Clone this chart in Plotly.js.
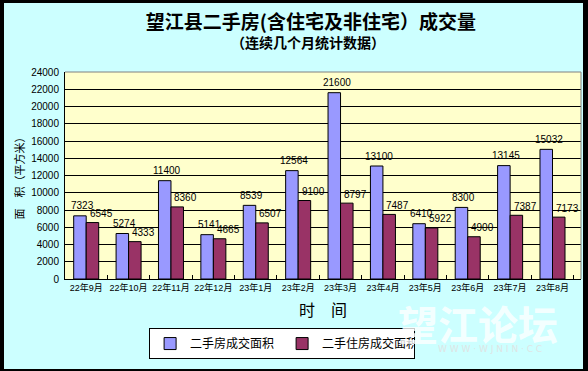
<!DOCTYPE html>
<html>
<head>
<meta charset="utf-8">
<script src="https://cdn.plot.ly/plotly-3.0.1.min.js"></script>
<style>
html,body{margin:0;padding:0;background:#000;width:588px;height:371px;overflow:hidden;}
#chart{position:absolute;left:4px;top:3px;width:579px;height:366px;}
</style>
</head>
<body>
<div id="chart"></div>
<script>
const categories = ['22年9月','22年10月','22年11月','22年12月','23年1月','23年2月','23年3月','23年4月','23年5月','23年6月','23年7月','23年8月'];
const totalArea = [7323, 5274, 11400, 5141, 8539, 12564, 21600, 13100, 6410, 8300, 13145, 15032];
const residentialArea = [6545, 4333, 8360, 4665, 6507, 9100, 8797, 7487, 5922, 4900, 7387, 7173];
const seriesNames = ['二手房成交面积', '二手住房成交面积'];
const yTicks = [0,2000,4000,6000,8000,10000,12000,14000,16000,18000,20000,22000,24000];

const cjk = '"Liberation Sans", "Noto Sans CJK SC", sans-serif';
const cjkTitle = '"Noto Sans CJK SC", sans-serif';

const traces = [
  {type:'bar', name:seriesNames[0], x:categories, y:totalArea,
   marker:{color:'#9999FF', line:{color:'#000', width:1}}, hoverinfo:'none'},
  {type:'bar', name:seriesNames[1], x:categories, y:residentialArea,
   marker:{color:'#993366', line:{color:'#000', width:1}}, hoverinfo:'none'}
];

const labelAnn = [];
categories.forEach((c,i)=>{
  labelAnn.push({x:c, y:totalArea[i], xref:'x', yref:'y', text:String(totalArea[i]), showarrow:false,
    xanchor:'center', xshift:-4, yshift:10, yanchor:'middle', font:{family:cjk, size:10, color:'#000'}});
  labelAnn.push({x:c, y:residentialArea[i], xref:'x', yref:'y', text:String(residentialArea[i]), showarrow:false,
    xanchor:'center', xshift:15, yshift:9, yanchor:'middle', font:{family:cjk, size:10, color:'#000'}});
});

const otherAnn = [
  {xref:'paper', yref:'paper', x:0.47, xanchor:'center', y:1.145, text:'（连续几个月统计数据）', showarrow:false,
   yanchor:'middle', font:{family:cjkTitle, size:14, color:'#000', weight:'bold'}},
  {xref:'paper', yref:'paper', x:0.80, xanchor:'center', y:-0.212, text:'<b>望江论坛</b>', showarrow:false,
   yanchor:'middle', font:{family:cjkTitle, size:40, color:'rgba(255,255,255,0.8)'}},
  {xref:'paper', yref:'paper', x:0.824, xanchor:'center', y:-0.338, text:'W W W · W J N I N · C C', showarrow:false,
   yanchor:'middle', font:{family:'"DejaVu Sans", sans-serif', size:9, color:'rgba(225,225,225,0.9)'}}
];

const layout = {
  width:579, height:366,
  margin:{l:61, r:2, t:69, b:90},
  paper_bgcolor:'#CCFFFF',
  plot_bgcolor:'#FFFFCC',
  barmode:'group', bargap:0.41, bargroupgap:0,
  title:{text:'望江县二手房(含住宅及非住宅）成交量', font:{family:cjkTitle, size:19, color:'#000', weight:'bold'},
         x:0.53, xanchor:'center', xref:'container', y:1-19/366, yref:'container', yanchor:'middle'},
  xaxis:{type:'category', showline:true, linecolor:'#000', linewidth:1, ticks:'inside', tickson:'boundaries',
         ticklen:4, tickcolor:'#000', showgrid:false, tickangle:0, automargin:false,
         tickfont:{family:cjk, size:9, color:'#000'},
         title:{text:'时　间', font:{family:cjkTitle, size:16, color:'#000'}, standoff:13}},
  yaxis:{range:[0,24000], tickvals:yTicks, ticktext:yTicks.map(String), showline:true, linecolor:'#000', linewidth:1,
         showgrid:true, gridcolor:'#000', gridwidth:1, zeroline:false, ticks:'', ticklabelstandoff:3, automargin:false,
         tickfont:{family:cjk, size:10, color:'#000'},
         title:{text:'面　积（平方米）', font:{family:cjkTitle, size:11, color:'#000'}, standoff:4}},
  legend:{orientation:'h', x:0.163, xanchor:'left', y:-0.237, yanchor:'top', bgcolor:'#FFFFFF',
          bordercolor:'#000', borderwidth:1, font:{family:cjkTitle, size:12, color:'#000'}, entrywidth:87, traceorder:'normal'},
  shapes:[
    {type:'line', xref:'paper', yref:'paper', x0:0, x1:1, y0:1, y1:1, line:{color:'#808080', width:1}, layer:'above'},
    {type:'line', xref:'paper', yref:'paper', x0:1, x1:1, y0:0, y1:1, line:{color:'#808080', width:1}, layer:'above'}
  ],
  annotations: labelAnn.concat(otherAnn),
  showlegend:true
};

Plotly.newPlot('chart', traces, layout, {staticPlot:true, displayModeBar:false});
</script>
</body>
</html>
